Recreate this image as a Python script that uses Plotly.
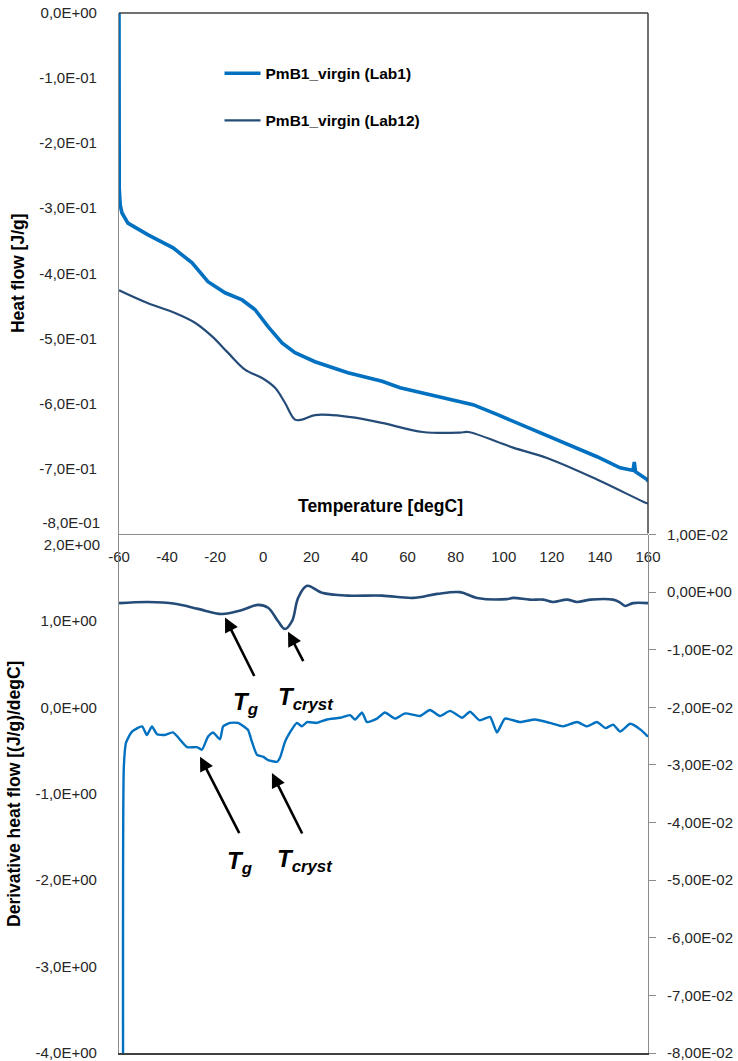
import math
import plotly.graph_objects as go

# ---------------- data ----------------
# Top chart: heat flow [J/g] vs temperature [degC]
lab1_T = [-60.0, -60.0, -59.9, -59.5, -58.8, -56.3, -47.9, -37.5, -29.6, -23.0, -15.9, -8.8, -3.4,
          2.0, 7.8, 13.2, 21.5, 35.2, 49.4, 56.9, 69.3, 87.2, 97.2, 110.9, 124.7, 138.8,
          148.4, 153.8, 154.3, 154.8, 159.6, 160.0]
lab1_hf = [0.0, -0.20, -0.27, -0.295, -0.307, -0.323, -0.341, -0.361, -0.384, -0.413, -0.430, -0.441, -0.456,
           -0.482, -0.507, -0.522, -0.536, -0.553, -0.566, -0.576, -0.587, -0.602, -0.617, -0.638, -0.659, -0.682,
           -0.699, -0.703, -0.690, -0.705, -0.717, -0.720]

lab12_T = [-60.0, -47.9, -36.7, -28.4, -21.3, -14.7, -7.6, -0.5, 4.9, 9.0, 13.2, 16.1, 21.5, 28.6,
           38.2, 49.4, 66.4, 81.8, 85.2, 103.9, 118.0, 138.8, 158.0, 160.0]
lab12_hf = [-0.426, -0.446, -0.461, -0.476, -0.497, -0.522, -0.548, -0.561, -0.576, -0.599, -0.625, -0.625,
            -0.618, -0.618, -0.622, -0.630, -0.644, -0.645, -0.644, -0.668, -0.684, -0.717, -0.751, -0.754]

# Bottom chart: derivative heat flow
lab1_dT = [-58.3, -58.0, -57.1, -54.6, -50.4, -48.4, -46.3, -44.2, -40.9, -37.5, -31.7, -27.6, -25.5,
           -23.0, -20.9, -18.0, -16.7, -13.8, -10.5, -6.4, -4.7, -2.6, -0.1, 2.0, 5.7, 7.0, 9.0, 11.1,
           14.0, 16.1, 18.2, 22.3, 26.5, 31.9, 36.1, 38.2, 41.1, 43.1, 47.3, 50.6, 54.8, 59.0, 65.2,
           69.3, 73.5, 77.7, 82.7, 86.0, 90.0, 94.3, 97.2, 100.5, 106.8, 113.0, 119.2, 124.7, 130.5,
           134.6, 138.8, 142.3, 145.5, 148.4, 152.6, 157.0, 160.0]
lab1_dhf = [-4.6, -0.70, -0.41, -0.28, -0.22, -0.32, -0.22, -0.31, -0.32, -0.29, -0.46, -0.46, -0.49,
            -0.34, -0.29, -0.37, -0.22, -0.18, -0.18, -0.26, -0.40, -0.55, -0.57, -0.61, -0.63, -0.58, -0.40, -0.29,
            -0.18, -0.22, -0.17, -0.18, -0.14, -0.12, -0.09, -0.14, -0.06, -0.17, -0.13, -0.06, -0.13, -0.07, -0.10,
            -0.03, -0.10, -0.04, -0.12, -0.05, -0.15, -0.11, -0.29, -0.13, -0.17, -0.14, -0.18, -0.22, -0.17,
            -0.22, -0.17, -0.24, -0.20, -0.28, -0.19, -0.26, -0.34]

lab12_dT = [-60.0, -47.9, -36.7, -27.1, -17.2, -8.8, -2.2, 2.0, 6.1, 9.0, 12.0, 14.5, 18.2, 24.4, 35.2,
            49.4, 62.3, 72.3, 81.8, 88.9, 101.4, 103.9, 110.9, 116.4, 120.5, 126.3, 130.5, 135.9, 145.5,
            148.4, 150.5, 153.8, 160.0]
lab12_dhf = [-0.0019, -0.0017, -0.0020, -0.0029, -0.0038, -0.0031, -0.0022, -0.0027, -0.0050, -0.0064,
             -0.0050, -0.0010, 0.0011, -0.0001, -0.0006, -0.0006, -0.0010, -0.0003, 0.0000, -0.0010, -0.0012,
             -0.0010, -0.0013, -0.0013, -0.0017, -0.0013, -0.0017, -0.0013, -0.0013, -0.0018, -0.0024,
             -0.0019, -0.0019]

x_ticks = [-60, -40, -20, 0, 20, 40, 60, 80, 100, 120, 140, 160]
hf_ticks = [0.0, -0.1, -0.2, -0.3, -0.4, -0.5, -0.6, -0.7, -0.8]
dhf_left_ticks = [2, 1, 0, -1, -2, -3, -4]
dhf_right_ticks = [0.01, 0.0, -0.01, -0.02, -0.03, -0.04, -0.05, -0.06, -0.07, -0.08]

series_names = ["PmB1_virgin (Lab1)", "PmB1_virgin (Lab12)"]


def excel_sci(v, dec):
    if abs(v) < 1e-12:
        mant, ex = 0.0, 0
    else:
        ex = math.floor(math.log10(abs(v)) + 1e-9)
        mant = v / 10 ** ex
    s = f"{mant:.{dec}f}".replace(".", ",")
    sign = "+" if ex >= 0 else "-"
    return f"{s}E{sign}{abs(ex):02d}"


FONT = "Liberation Sans, Arial, sans-serif"
C1 = "#0070C0"
C2 = "#254C78"
GRAY = "#8c8c8c"
TXT = "#262626"

fig = go.Figure()
fig.add_trace(go.Scatter(x=lab1_T, y=lab1_hf, mode="lines", name=series_names[0],
                         line=dict(color=C1, width=3.6), xaxis="x", yaxis="y", legendgroup="a"))
fig.add_trace(go.Scatter(x=lab12_T, y=lab12_hf, mode="lines", name=series_names[1],
                         line=dict(color=C2, width=2.2, shape="spline"), xaxis="x", yaxis="y", legendgroup="b"))
fig.add_trace(go.Scatter(x=lab1_dT, y=lab1_dhf, mode="lines", showlegend=False,
                         line=dict(color=C1, width=2.4, shape="spline", smoothing=0.5),
                         xaxis="x2", yaxis="y2"))
fig.add_trace(go.Scatter(x=lab12_dT, y=lab12_dhf, mode="lines", showlegend=False,
                         line=dict(color=C2, width=2.6, shape="spline"), xaxis="x2", yaxis="y3"))
# empty traces so that the two label-only overlay axes are drawn
fig.add_trace(go.Scatter(x=[], y=[], mode="lines", showlegend=False, hoverinfo="skip",
                         xaxis="x", yaxis="y4"))
fig.add_trace(go.Scatter(x=[], y=[], mode="lines", showlegend=False, hoverinfo="skip",
                         xaxis="x2", yaxis="y5"))

tickfont = dict(family=FONT, size=15, color=TXT)
titlefont = dict(family=FONT, size=17.5, color="black")

common = dict(showgrid=False, zeroline=False, automargin=False, ticklabeloverflow="allow")

fig.update_layout(
    width=738, height=1061,
    margin=dict(l=119, r=90, t=13, b=8),
    paper_bgcolor="white", plot_bgcolor="white",
    font=dict(family=FONT, color=TXT),
    showlegend=True,
    legend=dict(x=0.19, y=0.958, xanchor="left", yanchor="top", bgcolor="rgba(0,0,0,0)",
                font=dict(family=FONT, size=15.5, color="black", weight="bold"),
                traceorder="grouped", tracegroupgap=24, itemwidth=36),
    xaxis=dict(domain=[0, 1], anchor="y", range=[-60, 160], tickvals=x_ticks,
               ticktext=[str(t) for t in x_ticks], showline=True, linecolor=GRAY, linewidth=1.2,
               ticks="", tickfont=tickfont, ticklabelstandoff=9, **common),
    yaxis=dict(domain=[0.4995, 1], anchor="x", range=[-0.8, 0], tickvals=hf_ticks[:-1],
               ticktext=[excel_sci(v, 1) for v in hf_ticks[:-1]], showline=True, linecolor=GRAY,
               linewidth=1.2, ticks="", tickfont=tickfont, ticklabelstandoff=18,
               title=dict(text="<b>Heat flow [J/g]</b>", font=titlefont, standoff=10), **common),
    # last label of the upper chart sits just above its tick (as in the original)
    yaxis4=dict(overlaying="y", anchor="x", side="left", range=[-0.8, 0], tickvals=hf_ticks[-1:],
                ticktext=[excel_sci(v, 1) for v in hf_ticks[-1:]], showline=False, ticks="",
                tickfont=tickfont, ticklabelstandoff=18, ticklabelposition="outside top", **common),
    xaxis2=dict(domain=[0, 1], anchor="y2", range=[-60, 160], showticklabels=False,
                showline=True, linecolor="#404040", linewidth=1.5, ticks="", **common),
    yaxis2=dict(domain=[0, 0.4985], anchor="x2", range=[-4, 2], tickvals=dhf_left_ticks[1:],
                ticktext=[excel_sci(v, 1) for v in dhf_left_ticks[1:]], showline=True, linecolor=GRAY,
                linewidth=1.2, ticks="", tickfont=tickfont, ticklabelstandoff=18,
                title=dict(text="<b>Derivative heat flow [(J/g)/degC]</b>", font=titlefont, standoff=10),
                **common),
    # first label of the lower chart sits just below its tick
    yaxis5=dict(overlaying="y2", anchor="x2", side="left", range=[-4, 2], tickvals=dhf_left_ticks[:1],
                ticktext=[excel_sci(v, 1) for v in dhf_left_ticks[:1]], showline=False, ticks="",
                tickfont=tickfont, ticklabelstandoff=18, ticklabelposition="outside bottom", **common),
    yaxis3=dict(overlaying="y2", side="right", anchor="x2", range=[-0.08, 0.01],
                tickvals=dhf_right_ticks, ticktext=[excel_sci(v, 2) for v in dhf_right_ticks],
                showline=True, linecolor=GRAY, linewidth=1.2, ticks="outside", ticklen=7,
                tickcolor=GRAY, tickfont=tickfont, ticklabelstandoff=8, **common),
)

# dark frame (top and right) of the upper chart
fig.add_shape(type="line", xref="paper", yref="paper", x0=0, x1=1, y0=1, y1=1,
              line=dict(color="#404040", width=1.5))
fig.add_shape(type="line", xref="paper", yref="paper", x0=1, x1=1, y0=0.4995, y1=1,
              line=dict(color="#404040", width=1.5))

# x-axis title inside the upper chart
fig.add_annotation(x=0.495, y=0.5255, xref="paper", yref="paper", showarrow=False,
                   text="<b>Temperature [degC]</b>", font=dict(family=FONT, size=17.5, color="black"))

# arrows (head position in data coords, tail offset in px)
arrows = [(-15.9, 1.04, 30, 60), (10.3, 0.876, 16, 31), (-26.3, -0.57, 40, 78), (3.6, -0.76, 31, 62)]
for hx, hy, dx, dy in arrows:
    fig.add_annotation(x=hx, y=hy, xref="x2", yref="y2", ax=dx, ay=dy, text="",
                       showarrow=True, arrowhead=2, arrowsize=1.1, arrowwidth=2.6,
                       arrowcolor="black")

labels = [(-7.6, 0.05, "<b><i>T<sub>g</sub></i></b>"), (17.8, 0.10, "<b><i>T<sub>cryst</sub></i></b>"),
          (-9.7, -1.79, "<b><i>T<sub>g</sub></i></b>"), (17.4, -1.77, "<b><i>T<sub>cryst</sub></i></b>")]
for lx, ly, t in labels:
    fig.add_annotation(x=lx, y=ly, xref="x2", yref="y2", text=t, showarrow=False,
                       font=dict(family=FONT, size=24, color="black"))

fig.write_html("out.html", config={"displayModeBar": False},
               post_script="document.body.style.margin='0px';")
